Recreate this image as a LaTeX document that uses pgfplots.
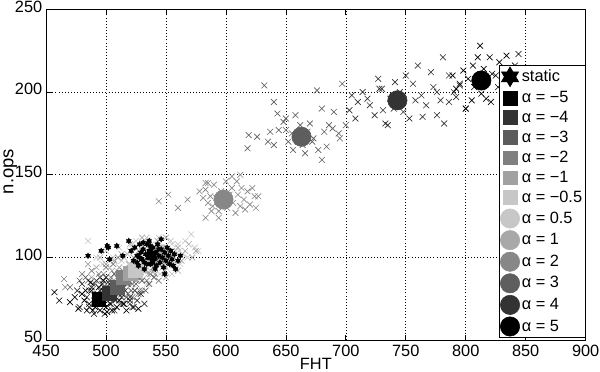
\documentclass[border=0pt]{standalone}
\usepackage{fontspec}
\setmainfont{Liberation Sans}
\usepackage{pgfplots}
\pgfplotsset{compat=1.18}
\definecolor{gA}{gray}{0.20}
\definecolor{gB}{gray}{0.36}
\definecolor{gC}{gray}{0.50}
\definecolor{gD}{gray}{0.63}
\definecolor{gE}{gray}{0.78}
\definecolor{cA}{gray}{0.78}
\definecolor{cB}{gray}{0.66}
\definecolor{cC}{gray}{0.53}
\definecolor{cD}{gray}{0.37}
\definecolor{cE}{gray}{0.20}
\pgfdeclareplotmark{hexagram}{%
  \pgfpathmoveto{\pgfpointpolar{90}{\pgfplotmarksize}}%
  \pgfpathlineto{\pgfpointpolar{210}{\pgfplotmarksize}}%
  \pgfpathlineto{\pgfpointpolar{330}{\pgfplotmarksize}}%
  \pgfpathclose
  \pgfpathmoveto{\pgfpointpolar{270}{\pgfplotmarksize}}%
  \pgfpathlineto{\pgfpointpolar{30}{\pgfplotmarksize}}%
  \pgfpathlineto{\pgfpointpolar{150}{\pgfplotmarksize}}%
  \pgfpathclose
  \pgfusepathqfillstroke
}
\begin{document}
\begin{tikzpicture}
\begin{axis}[
  scale only axis, width=380pt, height=233pt,
  xmin=450, xmax=900, ymin=50, ymax=250,
  xtick={450,500,...,900}, ytick={50,100,...,250},
  /pgf/number format/assume math mode=true,
  /pgf/number format/set thousands separator={},
  tick label style={font=\fontsize{11.5}{13}\selectfont},
  xticklabel style={inner sep=0.5pt, yshift=-2.6pt},
  yticklabel style={inner sep=0.5pt, xshift=-2pt, yshift=2pt},
  tick align=inside, major tick length=4pt,
  grid=major,
  major grid style={black, line width=0.45pt, dash pattern=on 0.6pt off 1.6pt},
  axis line style={black, line width=0.6pt},
  every tick/.style={black, line width=0.5pt},
  xlabel={FHT}, ylabel={n.ops},
  every axis x label/.style={at={(axis description cs:0.5,-0.073)}, anchor=center, inner sep=1pt, font=\fontsize{11.5}{13}\selectfont},
  every axis y label/.style={at={(axis description cs:-0.066,0.51)}, rotate=90, anchor=center, inner sep=2.5pt, font=\fontsize{13}{15}\selectfont},
  legend style={at={(rel axis cs:1,0.008)}, anchor=south east, draw=black, fill=white,
    font=\fontsize{11.5}{13}\selectfont, inner sep=0.8pt, row sep=1.6pt,
    nodes={inner sep=1.5pt}},
  legend cell align=left,
  clip marker paths=true,
]
% ---- scatter clouds (x marks) ----
\addplot[forget plot, only marks, mark=x, mark size=2.9pt, color=gE, line width=0.45pt] coordinates {
(485,110)(492,100)(497,96)(500,104)(503,94)(506,100)(509,92)(511,106)(513,98)(515,90)(518,102)(520,96)(522,108)(524,92)(526,100)(528,88)(530,104)(532,96)(535,110)(537,92)(540,102)(543,96)(546,106)(549,92)(552,100)(555,108)(558,96)(561,104)(520,86)(534,84)};
\addplot[forget plot, only marks, mark=x, mark size=2.9pt, color=cA, line width=0.45pt] coordinates {
(520,104)(525,110)(528,98)(531,106)(534,112)(536,100)(538,108)(540,96)(542,104)(544,112)(546,100)(548,106)(550,94)(552,102)(554,110)(556,98)(558,104)(560,108)(562,96)(564,102)(566,110)(568,100)(571,114)(574,106)(577,104)(545,90)(555,90)(532,94)};
\addplot[forget plot, only marks, mark=x, mark size=2.9pt, color=cB, line width=0.45pt] coordinates {
(515,100)(520,108)(524,96)(527,104)(530,112)(533,98)(536,106)(539,94)(541,102)(543,110)(546,98)(548,104)(550,112)(552,96)(555,104)(557,100)(560,106)(563,98)(566,104)(569,108)(572,100)(575,104)(535,90)(549,92)(560,92)(528,90)};
\addplot[forget plot, only marks, mark=x, mark size=2.9pt, color=gD, line width=0.45pt] coordinates {
(485,96)(488,88)(492,94)(495,100)(498,90)(500,96)(503,86)(505,92)(507,98)(509,88)(511,94)(513,102)(515,90)(517,84)(519,96)(521,90)(523,100)(525,86)(527,94)(529,88)(531,98)(533,92)(536,84)(538,96)(541,90)(544,100)(547,94)(550,88)(553,98)(530,80)(512,82)(524,106)};
\addplot[forget plot, only marks, mark=x, mark size=2.9pt, color=gC, line width=0.45pt] coordinates {
(465,87)(466,82)(480,90)(485,86)(488,92)(491,84)(494,90)(497,86)(500,94)(502,82)(504,88)(506,96)(508,84)(510,90)(512,80)(514,92)(516,86)(518,78)(520,90)(522,84)(524,96)(526,88)(528,80)(531,92)(534,86)(537,90)(540,94)(544,86)(548,96)(510,100)(500,78)(522,76)};
\addplot[forget plot, only marks, mark=x, mark size=2.9pt, color=gB, line width=0.45pt] coordinates {
(470,82)(478,86)(483,88)(486,80)(489,84)(492,78)(495,88)(498,82)(500,76)(503,86)(505,80)(507,90)(509,84)(511,78)(513,88)(515,82)(517,76)(519,86)(521,80)(523,90)(525,84)(527,78)(530,86)(533,80)(536,84)(512,72)(520,72)(497,74)(540,88)(528,92)};
\addplot[forget plot, only marks, mark=x, mark size=2.9pt, color=gA, line width=0.45pt] coordinates {
(476,80)(480,84)(484,76)(488,82)(490,74)(492,86)(495,80)(497,84)(499,76)(501,80)(503,72)(505,84)(506,78)(508,74)(510,82)(511,86)(513,76)(514,72)(516,80)(518,84)(520,76)(522,70)(524,80)(526,74)(529,78)(532,72)(486,70)(494,72)(500,88)(507,68)};
\addplot[forget plot, only marks, mark=x, mark size=2.9pt, color=black, line width=0.45pt] coordinates {
(457,79)(461,74)(470,73)(474,76)(477,69)(478,70)(480,78)(482,74)(484,68)(486,72)(488,80)(489,68)(490,66)(491,70)(492,74)(493,78)(494,82)(495,68)(496,72)(497,76)(498,80)(499,66)(500,70)(501,67)(502,78)(503,84)(504,72)(505,68)(506,76)(508,80)(509,70)(511,74)(513,78)(515,72)(517,68)(520,74)(523,70)(527,69)(483,80)(487,85)(498,86)};
\addplot[forget plot, only marks, mark=x, mark size=2.9pt, color=cC, line width=0.45pt] coordinates {
(544,134)(552,138)(560,130)(568,135)(578,140)(581,136)(583,124)(583,141)(585,145)(585,133)(587,137)(589,131)(590,144)(592,136)(594,128)(596,140)(598,134)(600,146)(601,130)(603,138)(605,142)(606,133)(608,127)(609,146)(610,138)(612,150)(612,131)(613,142)(615,135)(616,129)(618,140)(620,132)(622,142)(624,137)(625,130)(627,137)(594,124)(583,145)(588,128)(605,149)};
\addplot[forget plot, only marks, mark=x, mark size=2.9pt, color=cD, line width=0.45pt] coordinates {
(618,166)(619,174)(626,173)(632,204)(635,170)(637,176)(640,168)(640,194)(643,187)(644,177)(648,182)(650,177)(650,184)(652,170)(655,175)(656,165)(658,186)(660,170)(662,180)(664,168)(666,163)(668,176)(670,181)(672,170)(673,172)(676,201)(677,165)(680,190)(680,159)(682,176)(684,167)(686,180)(689,178)(690,188)(694,175)(695,172)(697,205)(700,180)};
\addplot[forget plot, only marks, mark=x, mark size=2.9pt, color=cE, line width=0.45pt] coordinates {
(703,189)(705,198)(708,184)(710,194)(714,200)(718,196)(720,192)(724,186)(728,202)(730,202)(731,189)(733,181)(735,180)(737,196)(740,190)(741,206)(745,200)(748,188)(750,210)(753,184)(756,205)(758,195)(760,216)(763,198)(764,185)(767,192)(771,212)(773,203)(776,186)(776,200)(779,195)(781,221)(782,181)(786,194)(786,210)(790,200)(792,197)(795,204)(800,190)(727,208)};
\addplot[forget plot, only marks, mark=x, mark size=2.9pt, color=black, line width=0.45pt] coordinates {
(789,210)(792,202)(795,205)(798,213)(800,190)(802,208)(805,195)(806,216)(807,203)(810,221)(811,210)(813,199)(815,214)(817,196)(818,206)(820,221)(821,194)(822,211)(825,210)(827,203)(828,218)(830,207)(832,214)(834,222)(836,205)(838,211)(841,216)(844,223)(846,208)(849,212)(812,228)(840,200)};
% ---- legend entries / centroids ----
\addlegendimage{only marks, mark=hexagram, mark size=7pt, black}
\addlegendentry{static}
\addplot[only marks, mark=square*, mark size=4.9pt, color=black] coordinates {(494,75)};
\addlegendentry{α = −5}
\addplot[only marks, mark=square*, mark size=4.9pt, color=gA] coordinates {(503,78.5)};
\addlegendentry{α = −4}
\addplot[only marks, mark=square*, mark size=4.9pt, color=gB] coordinates {(509.5,82)};
\addlegendentry{α = −3}
\addplot[only marks, mark=square*, mark size=4.9pt, color=gC] coordinates {(514.5,88)};
\addlegendentry{α = −2}
\addplot[only marks, mark=square*, mark size=4.9pt, color=gD] coordinates {(520.5,90.5)};
\addlegendentry{α = −1}
\addplot[only marks, mark=square*, mark size=4.9pt, color=gE] coordinates {(524.5,92.5)};
\addlegendentry{α = −0.5}
\addplot[only marks, mark=*, mark size=6.8pt, color=cA] coordinates {(547,102)};
\addlegendentry{α = 0.5}
\addplot[only marks, mark=*, mark size=6.8pt, color=cB] coordinates {(542,101)};
\addlegendentry{α = 1}
\addplot[only marks, mark=*, mark size=6.8pt, color=cC] coordinates {(598,135)};
\addlegendentry{α = 2}
\addplot[only marks, mark=*, mark size=6.8pt, color=cD] coordinates {(663,173)};
\addlegendentry{α = 3}
\addplot[only marks, mark=*, mark size=6.8pt, color=cE] coordinates {(743,195)};
\addlegendentry{α = 4}
\addplot[only marks, mark=*, mark size=6.8pt, color=black] coordinates {(813,207)};
\addlegendentry{α = 5}
% ---- static runs ----
\addplot[forget plot, only marks, mark=hexagram, mark size=1.9pt, color=black] coordinates {
(485,101)(496,104)(501,107)(502,106)(503,99)(509,107)(514,101)(519,110)(521,104)(523,98)(524,106)(526,101)(527,95)(528,108)(529,103)(530,99)(531,105)(532,97)(533,102)(534,108)(535,100)(536,104)(537,96)(538,101)(539,106)(540,99)(541,103)(542,95)(543,108)(544,101)(545,97)(546,105)(546,111)(547,100)(548,94)(549,103)(550,98)(551,106)(552,101)(553,96)(554,104)(555,99)(556,95)(557,102)(558,93)(560,98)(562,101)(549,90)(534,96)(528,100)(526,97)(531,109)(536,110)(541,93)(537,107)(532,93)(544,105)(539,97)};
\addplot[forget plot, only marks, mark=hexagram, mark size=5pt, color=black] coordinates {(538,101)};
\end{axis}
\end{tikzpicture}
\end{document}
